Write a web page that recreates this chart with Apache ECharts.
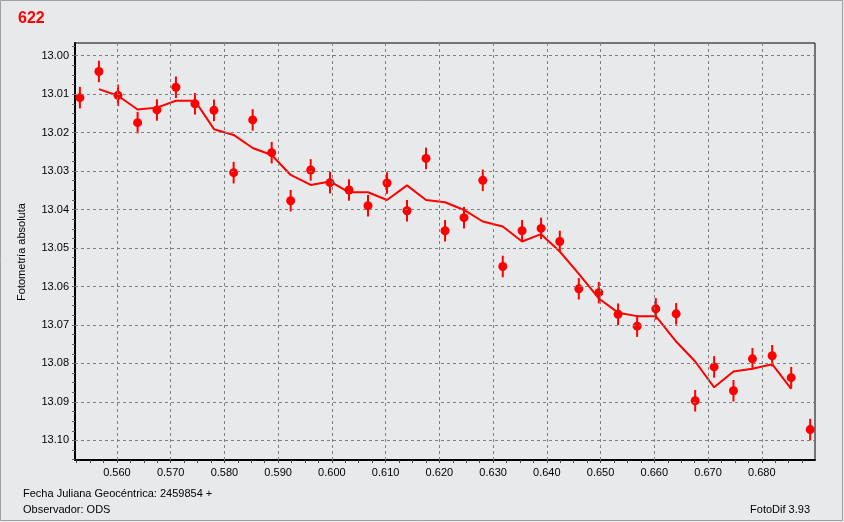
<!DOCTYPE html>
<html><head><meta charset="utf-8">
<script src="https://cdn.jsdelivr.net/npm/echarts@6/dist/echarts.min.js"></script>
<style>html,body{margin:0;padding:0;background:#e8e9eb}#c{width:844px;height:522px}</style>
</head><body><div id="c"></div>
<script>
// Julian date fractions (days after 2459854)
const jd = [0.55311, 0.55665, 0.56019, 0.56385, 0.56745, 0.57098, 0.57452, 0.57806, 0.58172, 0.58526,
  0.58880, 0.59233, 0.59606, 0.59965, 0.60319, 0.60672, 0.61026, 0.61398, 0.61752, 0.62106,
  0.62459, 0.62808, 0.63180, 0.63539, 0.63893, 0.64241, 0.64595, 0.64967, 0.65326, 0.65680,
  0.66028, 0.66406, 0.66760, 0.67113, 0.67473, 0.67826, 0.68193, 0.68547, 0.68900];
// observed absolute magnitude
const mag = [13.0109, 13.0041, 13.0103, 13.0174, 13.0141, 13.0082, 13.0125, 13.0142, 13.0304, 13.0167,
  13.0252, 13.0377, 13.0297, 13.0330, 13.0349, 13.0390, 13.0331, 13.0403, 13.0267, 13.0455,
  13.0421, 13.0324, 13.0548, 13.0455, 13.0449, 13.0483, 13.0606, 13.0616, 13.0672, 13.0703,
  13.0658, 13.0671, 13.0897, 13.0809, 13.0871, 13.0788, 13.0780, 13.0837, 13.0972];
// error (half-length of error bars)
const err = [0.0028, 0.0028, 0.0028, 0.0028, 0.0028, 0.0028, 0.0028, 0.0028, 0.0028, 0.0028,
  0.0028, 0.0028, 0.0028, 0.0028, 0.0028, 0.0028, 0.0028, 0.0028, 0.0028, 0.0028,
  0.0028, 0.0028, 0.0028, 0.0028, 0.0028, 0.0028, 0.0028, 0.0028, 0.0028, 0.0028,
  0.0028, 0.0028, 0.0028, 0.0028, 0.0028, 0.0028, 0.0028, 0.0028, 0.0028];
// smoothed curve (defined at jd[1] .. jd[37])
const fitJd = jd.slice(1, 38);
const fitMag = [13.0087, 13.0104, 13.0140, 13.0135, 13.0117, 13.0117, 13.0191, 13.0206, 13.0240, 13.0258,
  13.0310, 13.0336, 13.0327, 13.0355, 13.0355, 13.0375, 13.0337, 13.0375, 13.0381, 13.0401,
  13.0431, 13.0444, 13.0483, 13.0464, 13.0509, 13.0567, 13.0631, 13.0668, 13.0677, 13.0677,
  13.0743, 13.0795, 13.0862, 13.0821, 13.0814, 13.0802, 13.0866];
// tick labels
const xTicks = [0.560, 0.570, 0.580, 0.590, 0.600, 0.610, 0.620, 0.630, 0.640, 0.650, 0.660, 0.670, 0.680];
const yTicks = [13.00, 13.01, 13.02, 13.03, 13.04, 13.05, 13.06, 13.07, 13.08, 13.09, 13.10];
const xRange = [0.5522, 0.6899];
const yRange = [12.9967, 13.1051];

// minor tick positions (4 subdivisions per labelled step)
function minorTicks(major, range, sub) {
  const step = (major[1] - major[0]) / sub;
  const out = [];
  let start = major[0];
  while (start - step >= range[0]) start -= step;
  for (let v = start; v <= range[1] + 1e-9; v += step) out.push(+v.toFixed(6));
  return out;
}
const xMinor = minorTicks(xTicks, xRange, 4);
const yMinor = minorTicks(yTicks, yRange, 4);

const FONT = '"Liberation Sans", Arial, sans-serif';
const RED = '#ff0000';
const chart = echarts.init(document.getElementById('c'), null, {renderer: 'canvas'});

const gridLines = xTicks.map(v => ({xAxis: v})).concat(yTicks.map(v => ({yAxis: v})));

chart.setOption({
  animation: false,
  backgroundColor: '#e8e9eb',
  textStyle: {fontFamily: FONT},
  grid: {left: 75, right: 29, top: 43, bottom: 62, show: true, borderColor: '#000', borderWidth: 1, backgroundColor: 'transparent'},
  xAxis: {
    type: 'value', min: xRange[0], max: xRange[1],
    axisLine: {show: true, onZero: false, lineStyle: {color: '#000', width: 2}},
    axisTick: {show: true, customValues: xMinor, length: 3, lineStyle: {color: '#444', width: 1}},
    axisLabel: {customValues: xTicks, formatter: v => (+v).toFixed(3), fontSize: 11, color: '#000', margin: 7, fontFamily: FONT},
    splitLine: {show: false}
  },
  yAxis: {
    type: 'value', inverse: true, min: yRange[0], max: yRange[1],
    axisLine: {show: true, onZero: false, lineStyle: {color: '#000', width: 2}},
    axisTick: {show: true, customValues: yMinor, length: 3, lineStyle: {color: '#666', width: 1}},
    axisLabel: {customValues: yTicks, formatter: v => (+v).toFixed(2), fontSize: 11, color: '#000', margin: 6, fontFamily: FONT},
    splitLine: {show: false}
  },
  graphic: [
    {type: 'rect', silent: true, shape: {x: 0.5, y: 0.5, width: 842, height: 520}, style: {fill: 'none', stroke: '#a0a0a0', lineWidth: 1}},
    {type: 'text', x: 18, y: 19, style: {text: '622', font: 'bold 16px ' + FONT, fill: RED, textAlign: 'left', textVerticalAlign: 'middle'}},
    {type: 'text', x: 22, y: 252, rotation: Math.PI / 2, style: {text: 'Fotometría absoluta', font: '11px ' + FONT, fill: '#000', textAlign: 'center', textVerticalAlign: 'middle'}},
    {type: 'text', x: 23, y: 494, style: {text: 'Fecha Juliana Geocéntrica: 2459854 +', font: '11px ' + FONT, fill: '#000', textAlign: 'left', textVerticalAlign: 'middle'}},
    {type: 'text', x: 23, y: 510, style: {text: 'Observador: ODS', font: '11px ' + FONT, fill: '#000', textAlign: 'left', textVerticalAlign: 'middle'}},
    {type: 'text', x: 810, y: 510, style: {text: 'FotoDif 3.93', font: '11px ' + FONT, fill: '#000', textAlign: 'right', textVerticalAlign: 'middle'}}
  ],
  series: [
    {
      type: 'scatter', data: [], z: 1, silent: true,
      markLine: {
        silent: true, symbol: 'none', animation: false,
        label: {show: false},
        lineStyle: {type: [3, 3], color: '#808080', width: 1},
        data: gridLines
      }
    },
    {
      type: 'custom', z: 2, silent: true,
      data: jd.map((x, i) => [x, mag[i] - err[i], mag[i] + err[i]]),
      encode: {x: 0, y: [1, 2]},
      renderItem: (params, api) => {
        const a = api.coord([api.value(0), api.value(1)]);
        const b = api.coord([api.value(0), api.value(2)]);
        return {type: 'line', shape: {x1: a[0], y1: a[1], x2: b[0], y2: b[1]}, style: {stroke: RED, lineWidth: 2}};
      }
    },
    {
      type: 'line', z: 3, silent: true, symbol: 'none',
      data: fitJd.map((x, i) => [x, fitMag[i]]),
      lineStyle: {color: RED, width: 2}
    },
    {
      type: 'scatter', z: 4, silent: true, symbol: 'circle', symbolSize: 9,
      data: jd.map((x, i) => [x, mag[i]]),
      itemStyle: {color: RED, opacity: 1}
    }
  ]
});
</script></body></html>
